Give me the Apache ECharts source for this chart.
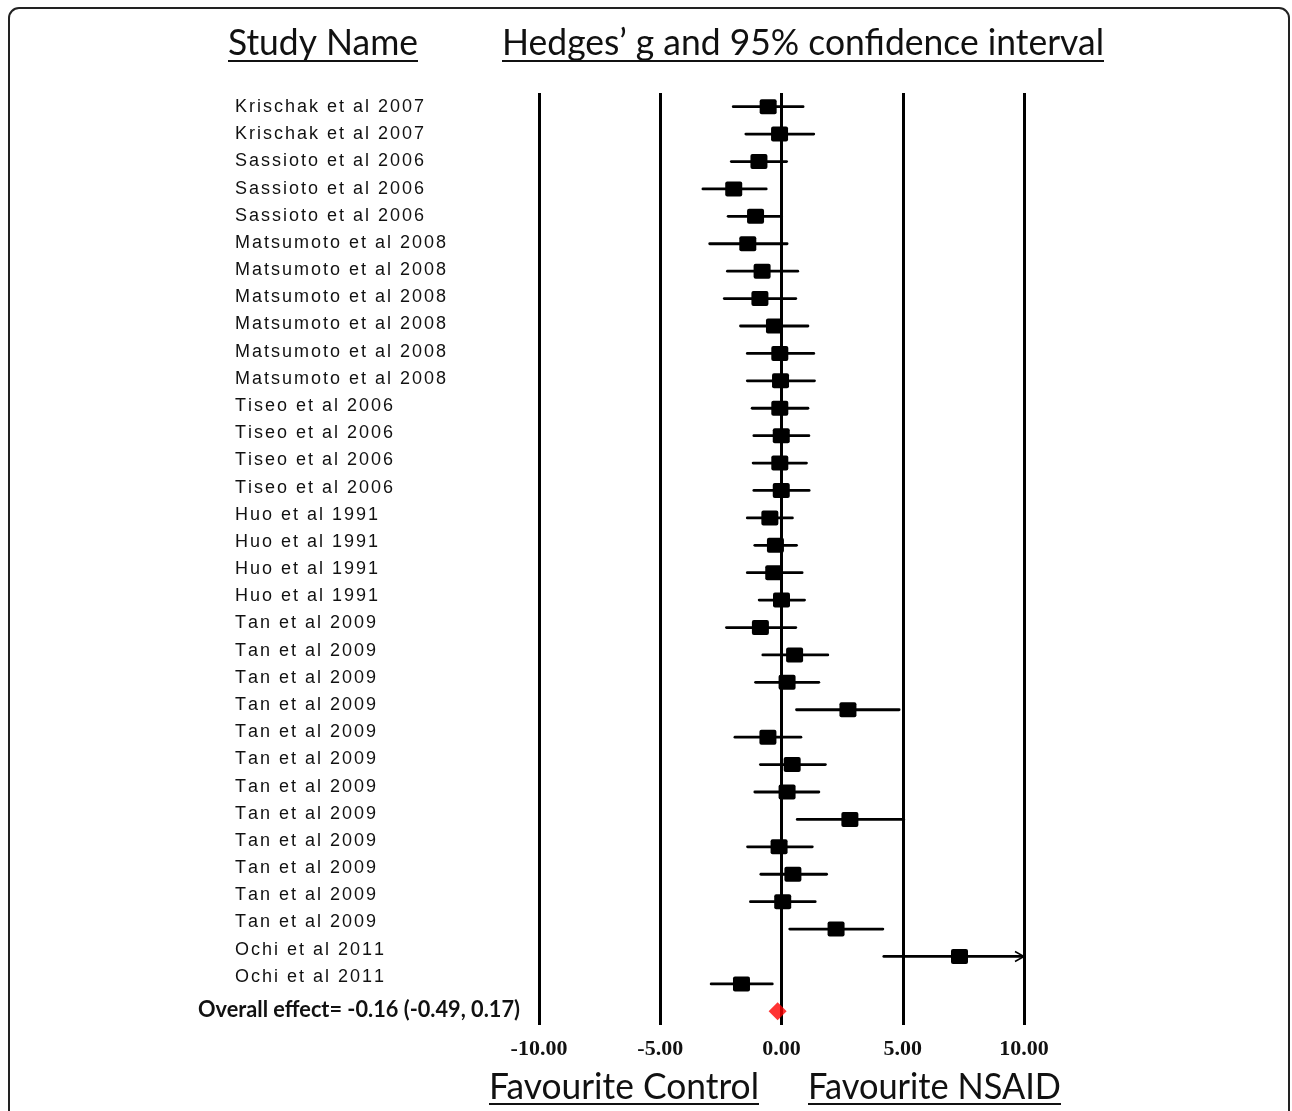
<!DOCTYPE html>
<html>
<head>
<meta charset="utf-8">
<title>Forest plot – NSAID vs control</title>
<script src="https://cdn.jsdelivr.net/npm/echarts@6/dist/echarts.min.js"></script>
<style>
  html, body { margin: 0; padding: 0; background: #fff; }
  #chart { width: 1292px; height: 1111px; }
</style>
</head>
<body>
<div id="chart"></div>
<script>
// ---- data -----------------------------------------------------------
const studies = [
  'Krischak et al 2007', 'Krischak et al 2007',
  'Sassioto et al 2006', 'Sassioto et al 2006', 'Sassioto et al 2006',
  'Matsumoto et al 2008', 'Matsumoto et al 2008', 'Matsumoto et al 2008',
  'Matsumoto et al 2008', 'Matsumoto et al 2008', 'Matsumoto et al 2008',
  'Tiseo et al 2006', 'Tiseo et al 2006', 'Tiseo et al 2006', 'Tiseo et al 2006',
  'Huo et al 1991', 'Huo et al 1991', 'Huo et al 1991', 'Huo et al 1991',
  'Tan et al 2009', 'Tan et al 2009', 'Tan et al 2009', 'Tan et al 2009',
  'Tan et al 2009', 'Tan et al 2009', 'Tan et al 2009', 'Tan et al 2009',
  'Tan et al 2009', 'Tan et al 2009', 'Tan et al 2009', 'Tan et al 2009',
  'Ochi et al 2011', 'Ochi et al 2011'
];
// Hedges' g point estimates
const hedgesG = [
  -0.55, -0.08, -0.93, -1.97, -1.07, -1.39, -0.80, -0.89, -0.29, -0.07, -0.04,
  -0.07, -0.01, -0.07, -0.01, -0.48, -0.25, -0.32, 0.00, -0.87, 0.54, 0.23,
  2.74, -0.56, 0.44, 0.23, 2.82, -0.10, 0.47, 0.05, 2.25, 7.34, -1.65
];
// 95% confidence interval bounds
const ciLower = [
  -1.99, -1.47, -2.07, -3.24, -2.20, -2.96, -2.23, -2.36, -1.69, -1.41, -1.41,
  -1.21, -1.14, -1.17, -1.14, -1.41, -1.10, -1.41, -0.92, -2.27, -0.77, -1.07,
  0.62, -1.92, -0.87, -1.10, 0.65, -1.40, -0.85, -1.28, 0.34, 4.22, -2.90
];
const ciUpper = [
  0.89, 1.33, 0.21, -0.63, 0.00, 0.23, 0.67, 0.59, 1.09, 1.33, 1.36,
  1.09, 1.13, 1.03, 1.14, 0.45, 0.62, 0.85, 0.95, 0.59, 1.91, 1.54,
  4.85, 0.80, 1.81, 1.54, 5.04, 1.27, 1.86, 1.39, 4.18, 10.46, -0.38
];
// pooled effect: [estimate, lower, upper]
const overallEffect = [-0.16, -0.49, 0.17];
// x axis ticks
const xTicks = [-10, -5, 0, 5, 10];

// ---- helpers --------------------------------------------------------
const measureCtx = document.createElement('canvas').getContext('2d');
function textWidth(str, font) {
  measureCtx.font = font;
  return measureCtx.measureText(str).width;
}
const fmt = v => v.toFixed(2);

const LABEL_FONT = '18px "Liberation Sans", Arial, sans-serif';
const LABEL_SPACING = 2.0;
const HEAD_FONT = '36px Lato, "Open Sans", sans-serif';
const OVERALL_FONT = 'bold 22px Lato, "Open Sans", sans-serif';

// row categories for the plot: one per study plus the pooled row
const rowCats = studies.map((s, i) => 'r' + i).concat(['overall']);
const xMin = xTicks[0], xMax = xTicks[xTicks.length - 1];

const forestData = studies.map((s, i) => [hedgesG[i], i, ciLower[i], ciUpper[i]]);

function renderStudy(params, api) {
  const est = api.value(0), row = api.value(1);
  const lo = api.value(2), hi = api.value(3);
  const hiClip = Math.min(hi, xMax);
  const pLo = api.coord([Math.max(lo, xMin), row]);
  const pHi = api.coord([hiClip, row]);
  const pE = api.coord([est, row]);
  const children = [
    { type: 'line', shape: { x1: pLo[0], y1: pLo[1], x2: pHi[0], y2: pHi[1] },
      style: { stroke: '#000', lineWidth: 2.8, lineCap: 'round' } },
    { type: 'rect', shape: { x: pE[0] - 8.5, y: pE[1] - 7.5, width: 17, height: 15, r: 2 },
      style: { fill: '#000' } }
  ];
  if (hi > xMax) {
    children.push({ type: 'polyline',
      shape: { points: [[pHi[0] - 9, pHi[1] - 5], [pHi[0], pHi[1]], [pHi[0] - 9, pHi[1] + 5]] },
      style: { stroke: '#000', lineWidth: 1.5, fill: null } });
  }
  return { type: 'group', children };
}

function renderLabel(params, api) {
  const p = api.coord([0, api.value(1)]);
  const name = studies[params.dataIndex];
  const children = [];
  let x = p[0];
  for (const ch of name) {
    children.push({ type: 'text', x: x, y: p[1],
      style: { text: ch, font: LABEL_FONT, fill: '#111', verticalAlign: 'middle', align: 'left' } });
    x += textWidth(ch, LABEL_FONT) + LABEL_SPACING;
  }
  return { type: 'group', children };
}

// header text stretched to a given span, with an underline
function header(text, left, right, cy, lineY) {
  const w = textWidth(text, HEAD_FONT);
  return [
    { type: 'text', x: left, y: cy, scaleX: (right - left) / w, originX: 0,
      style: { text: text, font: HEAD_FONT, fill: '#111', verticalAlign: 'middle', align: 'left' } },
    { type: 'line', shape: { x1: left, y1: lineY, x2: right, y2: lineY },
      style: { stroke: '#111', lineWidth: 2 } }
  ];
}

const overallText = 'Overall effect= ' + fmt(overallEffect[0]) +
  ' (' + fmt(overallEffect[1]) + ', ' + fmt(overallEffect[2]) + ')';

const chart = echarts.init(document.getElementById('chart'), null, { renderer: 'canvas' });

chart.setOption({
  backgroundColor: '#fff',
  animation: false,
  grid: [
    { left: 539, width: 485, top: 93, height: 932 },
    { left: 235, width: 280, top: 93.4, height: 897 }
  ],
  xAxis: [
    { gridIndex: 0, type: 'value', min: xMin, max: xMax, interval: 5,
      axisLine: { show: false }, axisTick: { show: false },
      splitLine: { show: true, lineStyle: { color: '#000', width: 3 } },
      axisLabel: { formatter: v => fmt(v), margin: 13, color: '#111',
        fontFamily: '"Liberation Serif", "Times New Roman", serif',
        fontWeight: 'bold', fontSize: 22 } },
    { gridIndex: 1, type: 'value', min: 0, max: 1, show: false }
  ],
  yAxis: [
    { gridIndex: 0, type: 'category', data: rowCats, inverse: true, show: false },
    { gridIndex: 1, type: 'category', data: studies.map((s, i) => 'l' + i), inverse: true, show: false }
  ],
  series: [
    { type: 'custom', name: 'studies', xAxisIndex: 0, yAxisIndex: 0,
      data: forestData, encode: { x: [0, 2, 3], y: 1 },
      renderItem: renderStudy, clip: false, z: 5 },
    { type: 'scatter', name: 'overall', xAxisIndex: 0, yAxisIndex: 0,
      data: [[overallEffect[0], studies.length]],
      symbol: 'diamond', symbolSize: [18, 18],
      itemStyle: { color: '#ff0000' }, z: 6 },
    { type: 'custom', name: 'labels', xAxisIndex: 1, yAxisIndex: 1,
      data: studies.map((s, i) => [0, i]), encode: { x: 0, y: 1 },
      renderItem: renderLabel, clip: false }
  ],
  graphic: [
    { type: 'rect', shape: { x: 9, y: 8, width: 1280, height: 1200, r: 10 },
      style: { stroke: '#222', lineWidth: 2, fill: null }, silent: true },
    ...header('Study Name', 228, 418, 43, 61),
    ...header('Hedges\u2019 g and 95% confidence interval', 502, 1104, 43, 61),
    ...header('Favourite Control', 489, 759, 1087, 1104),
    ...header('Favourite NSAID', 808, 1061, 1087, 1104),
    { type: 'text', x: 520, y: 1010, originX: 0,
      scaleX: 322 / textWidth(overallText, OVERALL_FONT),
      style: { text: overallText, font: OVERALL_FONT, fill: '#111',
        align: 'right', verticalAlign: 'middle' } }
  ]
});
</script>
</body>
</html>
